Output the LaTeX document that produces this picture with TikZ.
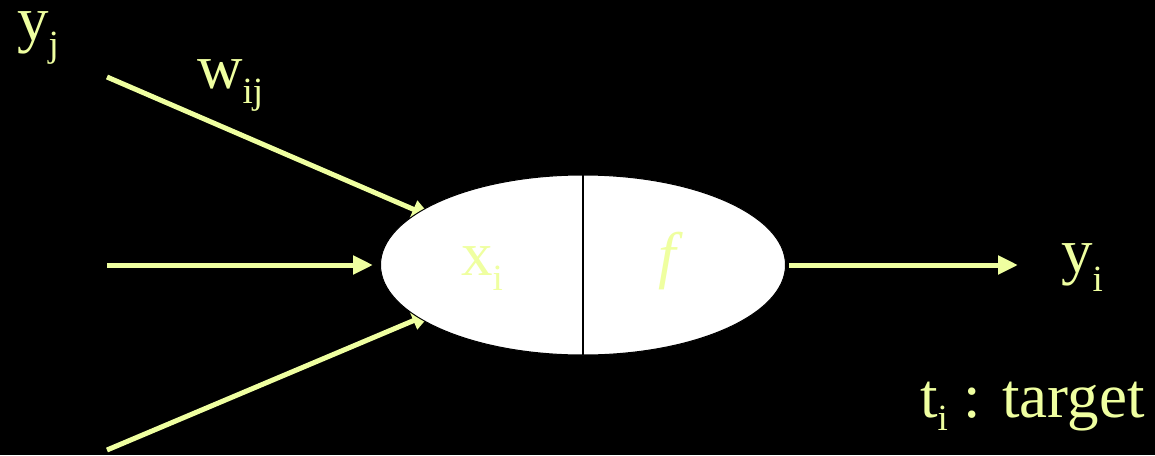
\documentclass[tikz,border=0pt]{standalone}
\usepackage{fontspec}
\setmainfont{Liberation Serif}
\usetikzlibrary{shapes.geometric,arrows.meta,backgrounds}
\definecolor{lime}{HTML}{EFFFA0}
\newcommand{\sbs}[2][16pt]{\raisebox{-#1}{\fontsize{37}{40}\selectfont #2}}
\tikzset{
  lbl/.style={anchor=base west,inner sep=0pt,text=lime,font=\fontsize{63}{72}\selectfont},
  wire/.style={draw=lime,line width=5pt},
  arr/.style={wire,-{Triangle[length=20pt,width=18pt]}},
}
\begin{document}
\begin{tikzpicture}[x=1pt,y=-1pt]
\useasboundingbox (0,0) rectangle (1155,455);
\node[ellipse,fill=white,draw=black,line width=1pt,minimum width=405pt,minimum height=180pt,inner sep=0pt] (e) at (583,265) {};
\coordinate (etop) at (583,175);
\coordinate (ebot) at (583,355);
\draw[black,line width=2pt] (etop) -- (ebot);
\coordinate (a1) at (107,77);
\coordinate (a2) at (107,265);
\coordinate (a3) at (107,450);
\coordinate (out) at (1018,265);
\begin{pgfonlayer}{background}
\fill[black] (0,0) rectangle (1155,455);
\draw[arr,shorten >=-14pt] (a1) -- (e.162);
\draw[arr,shorten >=-14pt] (a3) -- (e.198);
\end{pgfonlayer}
\draw[arr,shorten >=7pt] (a2) -- (e);
\draw[arr,shorten <=3pt] (e.east) -- (out);
\node[lbl] (yj) at (17,40) {y\sbs{j}};
\node[lbl] (wij) at (197,88) {w\sbs[15pt]{ij}};
\node[lbl] (xi) at (461,275) {x\sbs[15pt]{i}};
\node[lbl] (f) at (658,276) {\itshape f};
\node[lbl] (yi) at (1061,272) {y\sbs[19pt]{i}};
\node[lbl] (ti) at (920,417) {t\sbs[13pt]{i} : target};
\end{tikzpicture}
\end{document}
